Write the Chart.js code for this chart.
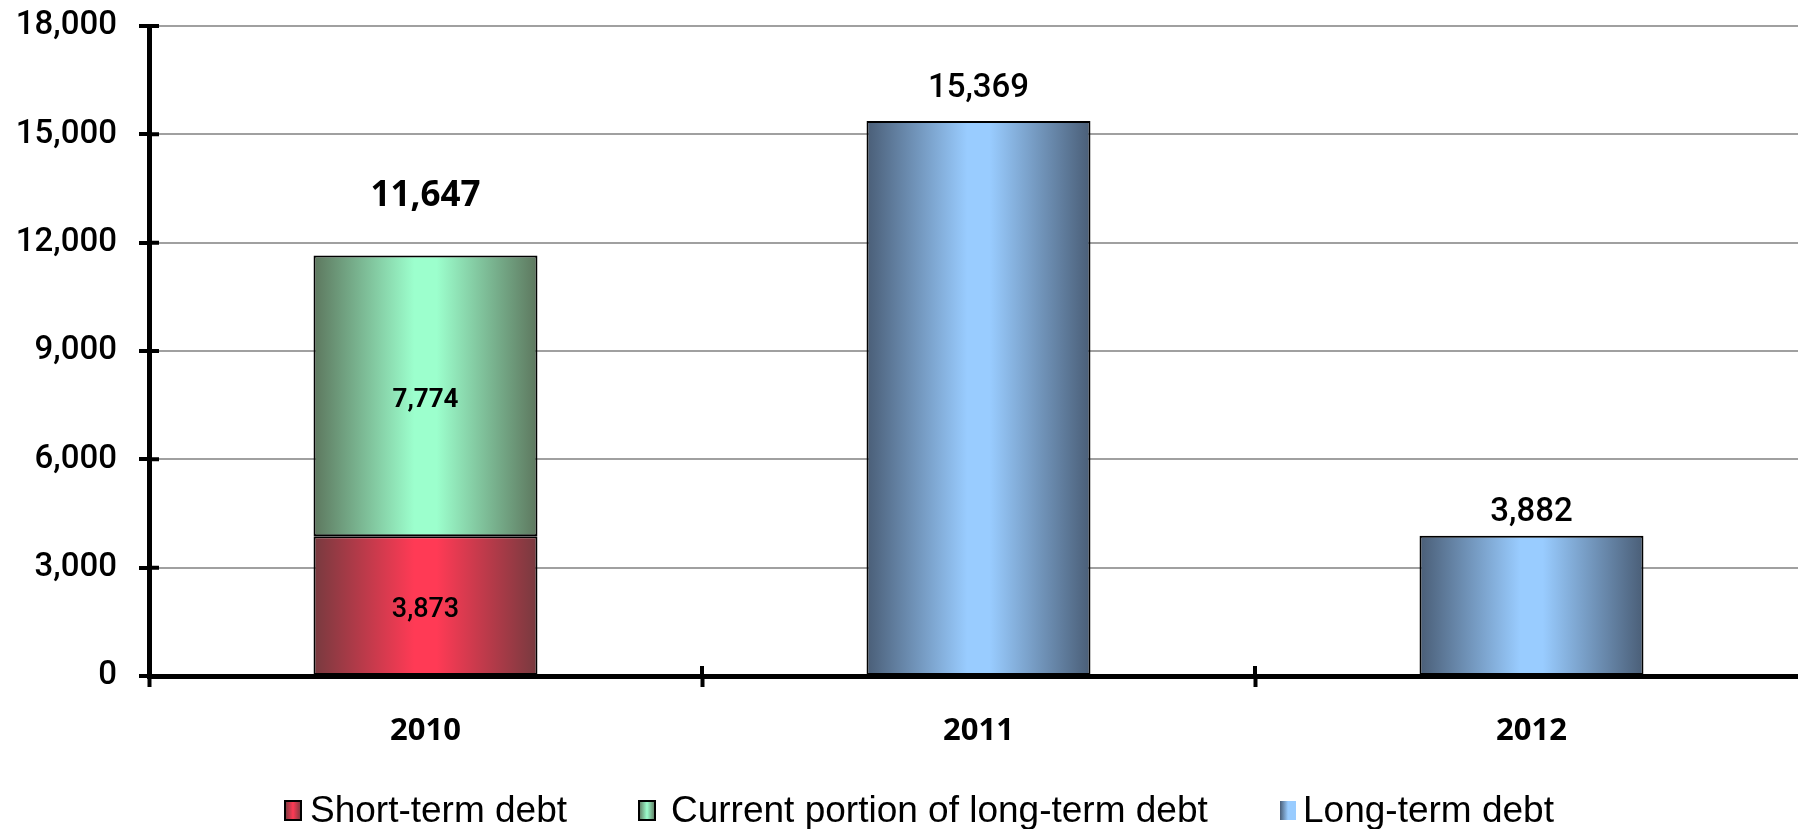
<!DOCTYPE html>
<html>
<head>
<meta charset="utf-8">
<script src="https://cdn.jsdelivr.net/npm/chart.js@4/dist/chart.umd.min.js"></script>
<style>
  html, body { margin: 0; padding: 0; background: #fff; overflow: hidden; }
  #debtChart { display: block; }
</style>
</head>
<body>
<canvas id="debtChart" width="1815" height="829"></canvas>
<script>
// chart data
const years = ['2010', '2011', '2012'];
const shortTermDebt = [3873, null, null];
const currentPortion = [7774, null, null];
const longTermDebt = [null, 15369, 3882];
const yTicks = [0, 3000, 6000, 9000, 12000, 15000, 18000];

const barPct = 0.405; // bar width / category width

// horizontal "cylinder" gradient like the old Excel fill
function barFill(dark, light) {
    return (c) => {
        const chart = c.chart;
        const xs = chart.scales && chart.scales.x;
        if (!xs || c.dataIndex === undefined) return light;
        const cx = xs.getPixelForValue(c.dataIndex);
        const half = xs.width / years.length * barPct / 2;
        if (!isFinite(cx) || !isFinite(half) || half <= 0) return light;
        const g = chart.ctx.createLinearGradient(cx - half, 0, cx + half, 0);
        g.addColorStop(0, dark);
        g.addColorStop(0.45, light);
        g.addColorStop(0.55, light);
        g.addColorStop(1, dark);
        return g;
    };
}

const palette = [
    { dark: '#773a3f', light: '#ff3a55', border: true },
    { dark: '#5d775e', light: '#9cffcd', border: true },
    { dark: '#4a5e77', light: '#99ccff', border: false }
];

// value labels: inside the stacked parts and totals on top
const valueLabels = {
    id: 'valueLabels',
    afterDatasetsDraw(chart) {
        const ctx = chart.ctx;
        ctx.save();
        ctx.fillStyle = '#000';
        ctx.textAlign = 'center';
        const innerFonts = ['500 27px Roboto', '700 26px Roboto'];
        [0, 1].forEach(di => {
            const meta = chart.getDatasetMeta(di);
            meta.data.forEach((el, i) => {
                const v = chart.data.datasets[di].data[i];
                if (v == null) return;
                ctx.font = innerFonts[di];
                ctx.textBaseline = 'middle';
                ctx.fillText(v.toLocaleString('en-US'), el.x, (el.y + el.base) / 2 + 5);
            });
        });
        const totalFonts = ['700 35px "Open Sans"', '500 33px Roboto', '500 33px Roboto'];
        const lift = [49, 24, 15];
        years.forEach((y, i) => {
            let total = 0, top = null, x = null;
            chart.data.datasets.forEach((ds, di) => {
                const v = ds.data[i];
                if (v == null) return;
                total += v;
                const el = chart.getDatasetMeta(di).data[i];
                x = el.x;
                top = top === null ? el.y : Math.min(top, el.y);
            });
            ctx.font = totalFonts[i];
            ctx.textBaseline = 'alphabetic';
            ctx.fillText(total.toLocaleString('en-US'), x, top - lift[i]);
        });
        ctx.restore();
    }
};

// short tick stubs crossing into the plot area
const innerTicks = {
    id: 'innerTicks',
    afterDraw(chart) {
        const ctx = chart.ctx;
        const { left, bottom } = chart.chartArea;
        const ys = chart.scales.y;
        const xs = chart.scales.x;
        ctx.save();
        ctx.strokeStyle = '#000';
        ctx.lineWidth = 4;
        ctx.beginPath();
        ys.ticks.forEach(t => {
            const py = ys.getPixelForValue(t.value);
            ctx.moveTo(left, py);
            ctx.lineTo(left + 10, py);
        });
        const step = xs.width / years.length;
        for (let k = 1; k <= years.length; k++) {
            const px = xs.left + step * k;
            ctx.moveTo(px, bottom);
            ctx.lineTo(px, bottom - 10);
        }
        ctx.stroke();
        ctx.restore();
    }
};

// legend drawn by hand so it sits where the original has it
const bottomLegend = {
    id: 'bottomLegend',
    afterDraw(chart) {
        const ctx = chart.ctx;
        const boxX = [285, 639, 1280];
        const textX = [310, 671, 1303];
        const baseline = 822;
        ctx.save();
        ctx.font = '37px "Liberation Sans"';
        ctx.textBaseline = 'alphabetic';
        ctx.textAlign = 'left';
        chart.data.datasets.forEach((ds, i) => {
            const p = palette[i];
            const bx = boxX[i], by = 801, bw = 16, bh = 19;
            const g = ctx.createLinearGradient(bx, 0, bx + bw, 0);
            g.addColorStop(0, p.dark);
            g.addColorStop(0.5, p.light);
            g.addColorStop(1, p.border ? p.dark : p.light);
            ctx.fillStyle = g;
            ctx.fillRect(bx, by, bw, bh);
            if (p.border) {
                ctx.strokeStyle = '#000';
                ctx.lineWidth = 2;
                ctx.strokeRect(bx, by, bw, bh);
            }
            ctx.fillStyle = '#000';
            ctx.fillText(ds.label, textX[i], baseline);
        });
        ctx.restore();
    }
};

const ctx = document.getElementById('debtChart').getContext('2d');

new Chart(ctx, {
    type: 'bar',
    data: {
        labels: years,
        datasets: [
            {
                label: 'Short-term debt',
                data: shortTermDebt,
                backgroundColor: barFill(palette[0].dark, palette[0].light),
                borderColor: '#000',
                borderWidth: 2,
                borderSkipped: false
            },
            {
                label: 'Current portion of long-term debt',
                data: currentPortion,
                backgroundColor: barFill(palette[1].dark, palette[1].light),
                borderColor: '#000',
                borderWidth: 2,
                borderSkipped: false
            },
            {
                label: 'Long-term debt',
                data: longTermDebt,
                backgroundColor: barFill(palette[2].dark, palette[2].light),
                borderColor: '#000',
                borderWidth: 2,
                borderSkipped: false
            }
        ]
    },
    options: {
        responsive: false,
        animation: false,
        categoryPercentage: 1,
        barPercentage: barPct,
        layout: { padding: { top: 26, right: 7, bottom: 0, left: 0 } },
        plugins: {
            legend: { display: false },
            tooltip: { enabled: false }
        },
        scales: {
            x: {
                stacked: true,
                afterFit: s => { s.height = 153; },
                grid: {
                    offset: true,
                    drawOnChartArea: false,
                    drawTicks: true,
                    tickLength: 11,
                    tickColor: '#000',
                    tickWidth: 4
                },
                border: { display: true, color: '#000', width: 5 },
                ticks: {
                    color: '#000',
                    padding: 26,
                    font: { family: 'Open Sans', size: 31, weight: '700' }
                }
            },
            y: {
                stacked: true,
                min: yTicks[0],
                max: yTicks[yTicks.length - 1],
                afterFit: s => {
                    s.width = 149;
                    // tick padding should not push the plot area down
                    s.paddingTop = 15;
                    s.paddingBottom = 15;
                },
                afterBuildTicks: s => { s.ticks = yTicks.map(v => ({ value: v })); },
                grid: {
                    color: c => (c.tick && c.tick.value === 0) ? 'rgba(0,0,0,0)' : '#a0a0a0',
                    lineWidth: 2,
                    drawTicks: true,
                    tickLength: 10,
                    tickColor: '#000',
                    tickWidth: 4
                },
                border: { display: true, color: '#000', width: 5 },
                ticks: {
                    color: '#000',
                    padding: 22,
                    font: { family: 'Roboto', size: 33, weight: '500' },
                    callback: v => v.toLocaleString('en-US')
                }
            }
        }
    },
    plugins: [valueLabels, innerTicks, bottomLegend]
});
</script>
</body>
</html>
